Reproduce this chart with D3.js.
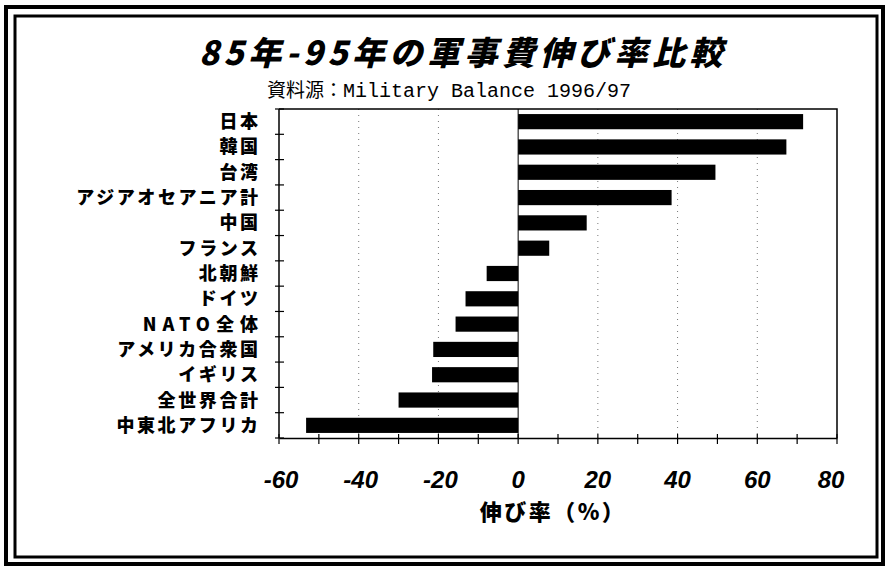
<!DOCTYPE html>
<html>
<head>
<meta charset="utf-8">
<script src="https://cdn.jsdelivr.net/npm/d3@7"></script>
<style>
  body { margin: 0; background: #fff; }
  svg { display: block; }
</style>
</head>
<body>
<div id="drawing"></div>
<script>
// data
var countries = ["日本", "韓国", "台湾", "アジアオセアニア計", "中国", "フランス", "北朝鮮",
                 "ドイツ", "NATO全体", "アメリカ合衆国", "イギリス", "全世界合計", "中東北アフリカ"];
var growth = [71.5, 67.3, 49.5, 38.5, 17.2, 7.8, -7.9, -13.2, -15.7, -21.3, -21.6, -30, -53.2];
var xTicks = [-60, -40, -20, 0, 20, 40, 60, 80];

var width = 889;
var height = 569;
var plot = {left: 279, right: 837, top: 109, bottom: 438};

var jp = "'Noto Sans CJK JP', 'Noto Sans', sans-serif";

var svg = d3.select("#drawing").append("svg")
  .attr("width", width)
  .attr("height", height);

svg.append("rect").attr("width", width).attr("height", height).attr("fill", "#fff");

// double frame
svg.append("rect")
  .attr("x", 6).attr("y", 7).attr("width", 877).attr("height", 557)
  .attr("fill", "none").attr("stroke", "#000").attr("stroke-width", 4);
svg.append("rect")
  .attr("x", 15).attr("y", 16).attr("width", 862).attr("height", 541)
  .attr("fill", "none").attr("stroke", "#000").attr("stroke-width", 3);

var xScale = d3.scaleLinear()
  .domain([-60, 80])
  .range([plot.left, plot.right]);

var yScale = d3.scaleBand()
  .domain(countries)
  .range([plot.top, plot.bottom])
  .paddingInner(0.4)
  .paddingOuter(0.2);

// dotted grid
svg.append("g")
  .selectAll("line")
  .data(xTicks.filter(d => d != 0 && d != -60 && d != 80))
  .enter().append("line")
    .attr("x1", d => xScale(d)).attr("x2", d => xScale(d))
    .attr("y1", plot.top).attr("y2", plot.bottom)
    .attr("stroke", "#777")
    .attr("stroke-width", 1)
    .attr("stroke-dasharray", "1,5");

// plot frame (top, right)
svg.append("path")
  .attr("d", `M${plot.left},${plot.top}H${plot.right}V${plot.bottom}`)
  .attr("fill", "none").attr("stroke", "#000").attr("stroke-width", 1.5);

// bars
svg.append("g")
  .selectAll("rect")
  .data(countries)
  .enter().append("rect")
    .attr("x", (d, i) => xScale(Math.min(0, growth[i])))
    .attr("y", d => yScale(d))
    .attr("width", (d, i) => Math.abs(xScale(growth[i]) - xScale(0)))
    .attr("height", yScale.bandwidth())
    .attr("fill", "#000");

// zero line
svg.append("line")
  .attr("x1", xScale(0)).attr("x2", xScale(0))
  .attr("y1", plot.top).attr("y2", plot.bottom)
  .attr("stroke", "#000").attr("stroke-width", 1);

// left axis: ticks at category boundaries
var boundaries = d3.range(countries.length + 1).map(i => plot.top + i * (plot.bottom - plot.top) / countries.length);
svg.append("line")
  .attr("x1", plot.left).attr("x2", plot.left)
  .attr("y1", plot.top).attr("y2", plot.bottom)
  .attr("stroke", "#000").attr("stroke-width", 1.5);
svg.append("g")
  .selectAll("line")
  .data(boundaries)
  .enter().append("line")
    .attr("x1", plot.left - 4).attr("x2", plot.left + 5)
    .attr("y1", d => d).attr("y2", d => d)
    .attr("stroke", "#000").attr("stroke-width", 1.2);

svg.append("g")
  .selectAll("text")
  .data(countries)
  .enter().append("text")
    .attr("x", 258)
    .attr("y", d => yScale(d) + yScale.bandwidth() / 2)
    .attr("dy", "0.36em")
    .attr("text-anchor", "end")
    .attr("font-family", jp)
    .attr("font-weight", 900)
    .attr("font-size", 18)
    .attr("letter-spacing", d => d == "NATO全体" ? "6px" : "2.6px")
    .attr("transform", d => `translate(${d == "NATO全体" ? 6 : 2.6},0)`)
    .text(d => d);

// bottom axis
var xAxis = d3.axisBottom(xScale)
  .tickValues(d3.range(-60, 81, 10))
  .tickSize(0)
  .tickFormat("");
svg.append("g")
  .attr("transform", `translate(0,${plot.bottom})`)
  .call(xAxis)
  .call(g => g.select(".domain").attr("stroke-width", 1.5));
svg.append("g")
  .selectAll("line")
  .data(d3.range(-60, 81, 10))
  .enter().append("line")
    .attr("x1", d => xScale(d)).attr("x2", d => xScale(d))
    .attr("y1", plot.bottom - 4).attr("y2", plot.bottom + 6)
    .attr("stroke", "#000").attr("stroke-width", 1.2);

svg.append("g")
  .selectAll("text")
  .data(xTicks)
  .enter().append("text")
    .attr("x", d => xScale(d) + (d < 0 ? 2 : (d == 80 ? -6 : 0)))
    .attr("y", 488)
    .attr("text-anchor", "middle")
    .attr("font-family", "'Liberation Sans', Arial, sans-serif")
    .attr("font-weight", "bold")
    .attr("font-style", "italic")
    .attr("font-size", 24)
    .text(d => d == 0 ? "0" : (d < 0 ? "-" + Math.abs(d) : d));

svg.append("text")
  .attr("x", 553)
  .attr("y", 520)
  .attr("text-anchor", "middle")
  .attr("font-family", jp)
  .attr("font-weight", 900)
  .attr("font-size", 22)
  .attr("letter-spacing", "2.5px")
  .text("伸び率（%）");

// titles
svg.append("text")
  .attr("x", 463)
  .attr("y", 65)
  .attr("text-anchor", "middle")
  .attr("font-family", jp)
  .attr("font-weight", 900)
  .attr("font-style", "italic")
  .attr("font-size", 33)
  .attr("letter-spacing", "4.5px")
  .text("85年-95年の軍事費伸び率比較");

var sub = svg.append("text")
  .attr("x", 449)
  .attr("y", 97)
  .attr("text-anchor", "middle")
  .attr("font-size", 19);
sub.append("tspan").attr("font-family", jp).text("資料源：");
sub.append("tspan").attr("font-family", "'Liberation Mono', 'DejaVu Sans Mono', monospace")
  .attr("font-size", 20)
  .text("Military Balance 1996/97");
</script>
</body>
</html>
